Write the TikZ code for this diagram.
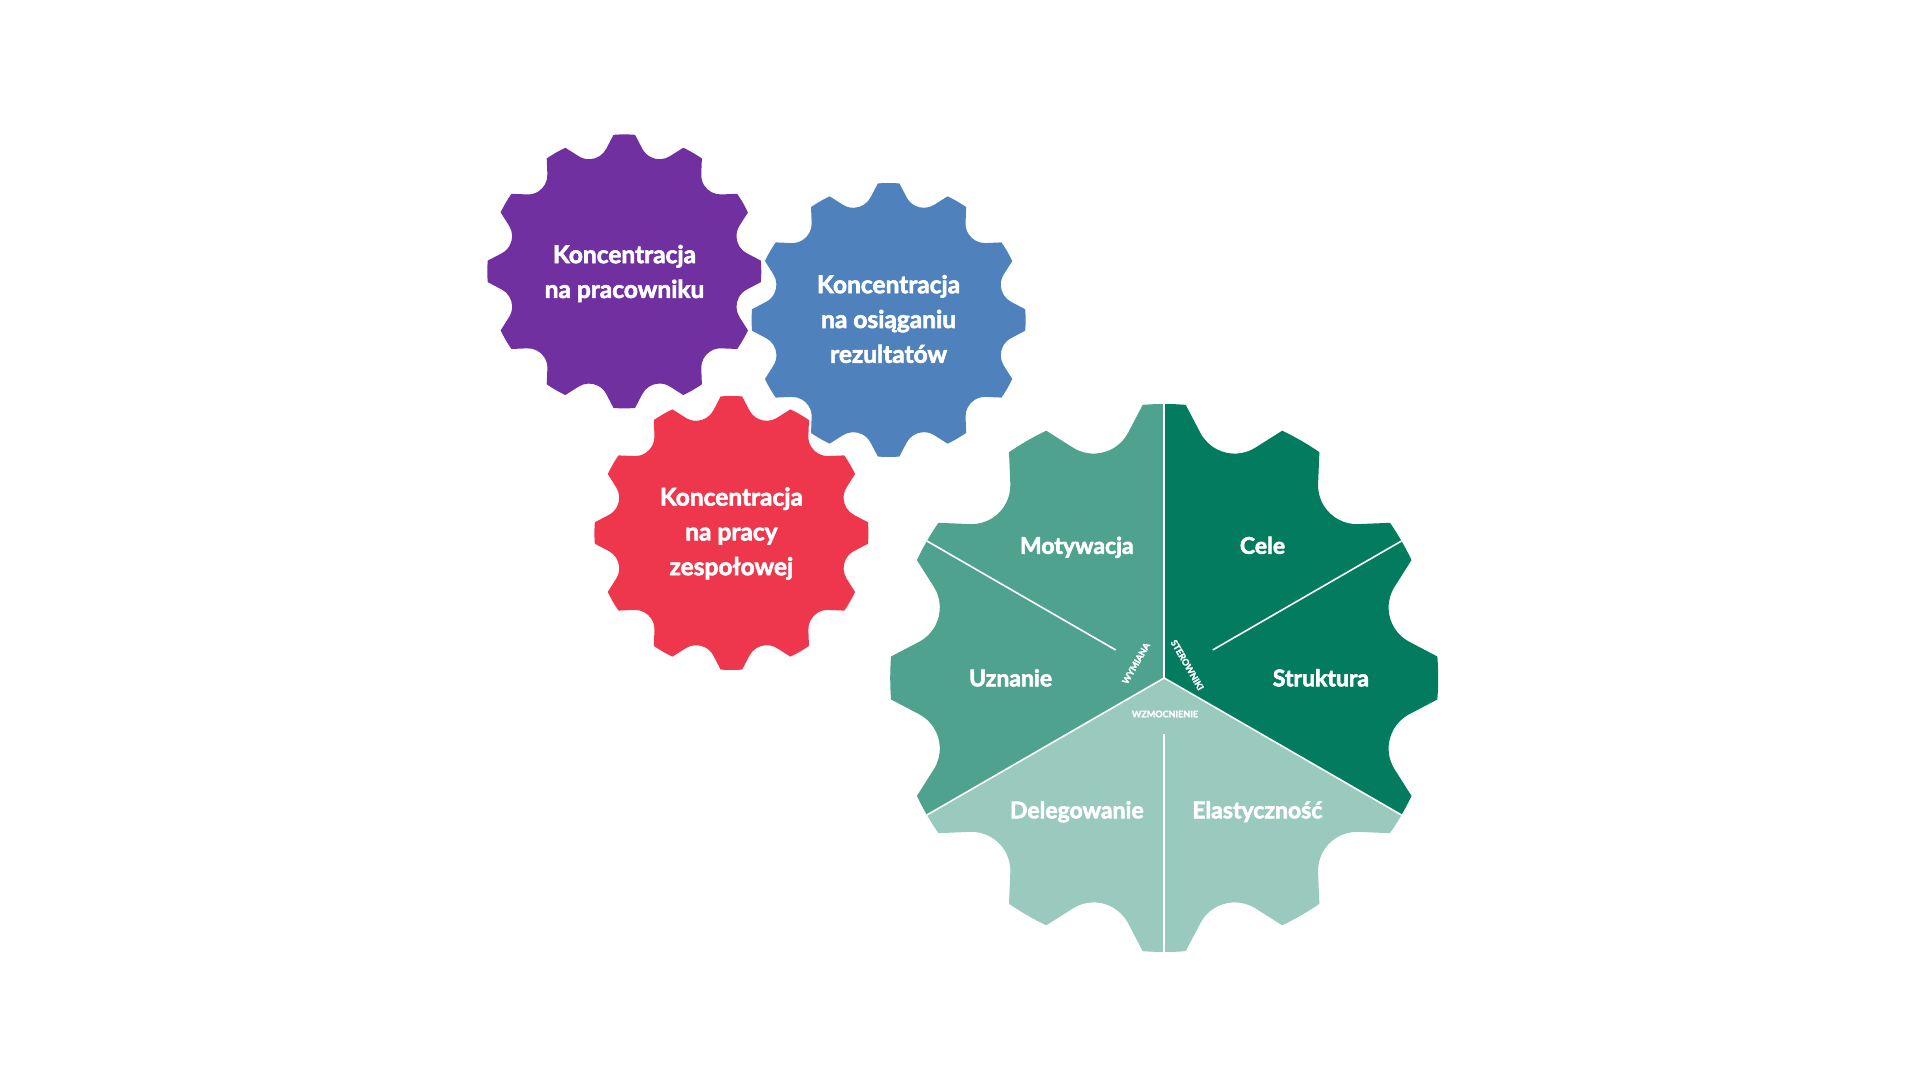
\documentclass[tikz,border=0pt]{standalone}
\usepackage{fontspec}
\setmainfont{Lato}[BoldFeatures={FakeBold=2.5}]
\definecolor{cpurple}{HTML}{7030A0}
\definecolor{cblue}{HTML}{4F81BD}
\definecolor{cred}{HTML}{EE364C}
\definecolor{gdark}{HTML}{027B5F}
\definecolor{gmid}{HTML}{4FA28D}
\definecolor{glight}{HTML}{9AC9BE}
% gear outline: centre x, centre y, outer radius (12 trapezoid teeth, round notches)
\newcommand{\mygear}[3]{([shift={(#1,#2)}]-4.5:#3) \foreach \k in {0,...,11}{ arc[start angle=\k*30-4.5, end angle=\k*30+4.5, radius=#3] -- ([shift={(#1,#2)}]{\k*30+8.377}:{0.90465*#3}) arc[start angle=\k*30+242.4, end angle=\k*30+147.6, radius=0.14174*#3] -- ([shift={(#1,#2)}]{\k*30+25.5}:#3)} -- cycle}
\begin{document}
\begin{tikzpicture}[x=1pt,y=1pt,
  lab/.style={font=\bfseries\fontsize{24.5}{34.8}\selectfont, text=white, align=center, inner sep=0pt},
  seglab/.style={font=\bfseries\fontsize{23}{27}\selectfont, text=white, inner sep=0pt, anchor=base},
  small/.style={font=\bfseries\fontsize{9}{11}\selectfont, text=white, inner sep=0pt},
  divider/.style={draw=white, line width=1.6pt}]
\useasboundingbox (0,0) rectangle (1920,1080);
\fill[white] (0,0) rectangle (1920,1080);

% small gears
\fill[cpurple] \mygear{624.3}{808.6}{137};
\fill[cblue] \mygear{888.6}{760}{137};
\fill[cred] \mygear{731.4}{547}{137};

\node[lab] (pracownik) at (624.5,806.5) {Koncentracja\\na pracowniku};
\node[lab] (rezultaty) at (888.6,761) {Koncentracja\\na osiąganiu\\rezultatów};
\node[lab] (zespol) at (731.4,546.5) {Koncentracja\\na pracy\\zespołowej};

% big gear
\coordinate (G) at (1164.2,402);
\begin{scope}
  \clip (G) -- ([shift={(G)}]-30:700) -- ([shift={(G)}]30:700) -- ([shift={(G)}]90:700) -- cycle;
  \fill[gdark] \mygear{1164.2}{402}{274};
\end{scope}
\begin{scope}
  \clip (G) -- ([shift={(G)}]90:700) -- ([shift={(G)}]150:700) -- ([shift={(G)}]210:700) -- cycle;
  \fill[gmid] \mygear{1164.2}{402}{274};
\end{scope}
\begin{scope}
  \clip (G) -- ([shift={(G)}]210:700) -- ([shift={(G)}]270:700) -- ([shift={(G)}]330:700) -- cycle;
  \fill[glight] \mygear{1164.2}{402}{274};
\end{scope}

\draw[divider] (G) -- ([shift={(G)}]90:274);
\draw[divider] (G) -- ([shift={(G)}]210:274);
\draw[divider] (G) -- ([shift={(G)}]330:274);
\draw[divider] ([shift={(G)}]30:56) -- ([shift={(G)}]30:274);
\draw[divider] ([shift={(G)}]150:56) -- ([shift={(G)}]150:274);
\draw[divider] ([shift={(G)}]270:56) -- ([shift={(G)}]270:274);

\node[seglab] (motywacja) at (1076.8,526.2) {Motywacja};
\node[seglab] (cele) at (1262.5,526.2) {Cele};
\node[seglab] (uznanie) at (1010.6,393.7) {Uznanie};
\node[seglab] (struktura) at (1320.9,393.7) {Struktura};
\node[seglab] (delegowanie) at (1076.8,261.7) {Delegowanie};
\node[seglab] (elastycznosc) at (1257.3,261.7) {Elastyczność};

\node[small, rotate=60] (wymiana) at (1136,416.7) {WYMIANA};
\node[small, rotate=-60] (sterowniki) at (1187.3,415) {STEROWNIKI};
\node[small] (wzmocnienie) at (1165,366) {WZMOCNIENIE};
\end{tikzpicture}
\end{document}
